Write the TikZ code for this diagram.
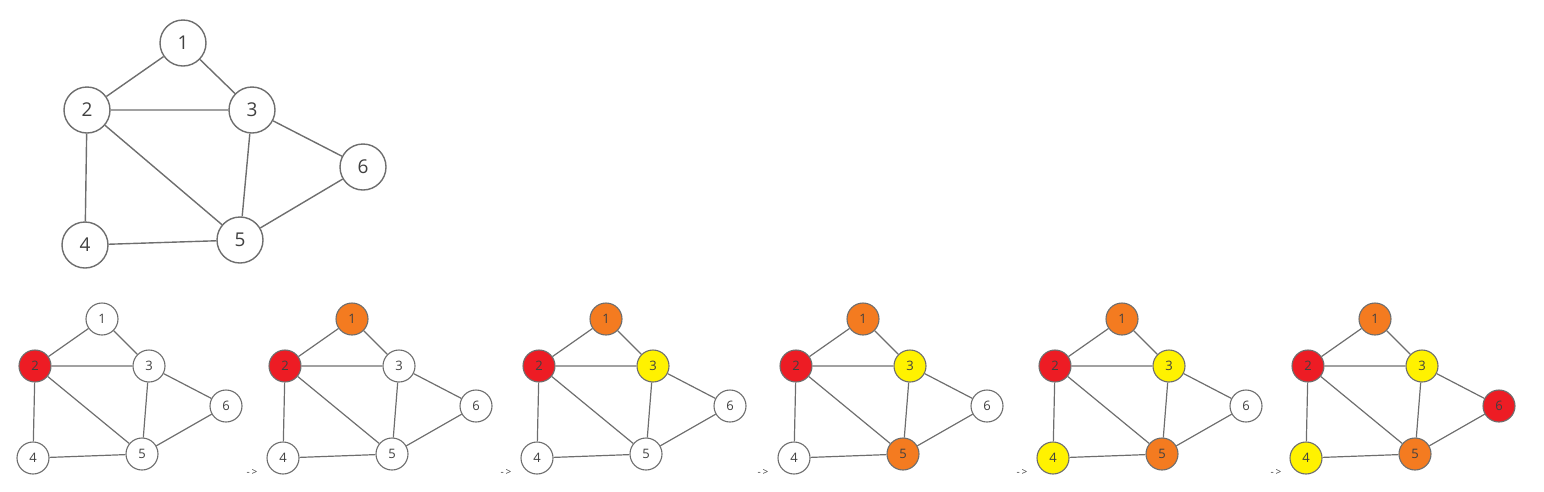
\documentclass[tikz,border=0pt]{standalone}
\usepackage{fontspec}
\setmainfont{Open Sans}
\usetikzlibrary{backgrounds}
\definecolor{cred}{HTML}{ED1C24}
\definecolor{corange}{HTML}{F47B20}
\definecolor{cyellow}{HTML}{FFF200}
\definecolor{edgegray}{HTML}{6E6E6E}
\definecolor{txtgray}{HTML}{404040}
\tikzset{
  bignode/.style={circle, draw=edgegray, line width=1.4pt, minimum size=46pt, inner sep=0pt, fill=white, font=\fontsize{19}{21}\selectfont, text=txtgray},
  smallnode/.style={circle, draw=edgegray, line width=1.1pt, minimum size=32pt, inner sep=0pt, font=\fontsize{13}{15}\selectfont, text=txtgray},
  bigedge/.style={draw=edgegray, line width=1.4pt},
  smalledge/.style={draw=edgegray, line width=1.2pt},
  arrowlabel/.style={font=\fontsize{10}{11}\selectfont, text=txtgray, inner sep=0pt}
}
% #1 prefix, #2 x of node 2, #3..#8 fills of nodes 1..6
\newcommand\smallgraph[8]{%
  \begin{scope}[shift={(#2,366)}]
    \node[smallnode, fill=#3] (#1n1) at (67,-47) {1};
    \node[smallnode, fill=#4] (#1n2) at (0,0) {2};
    \node[smallnode, fill=#5] (#1n3) at (114,0) {3};
    \node[smallnode, fill=#6] (#1n4) at (-2,92) {4};
    \node[smallnode, fill=#7] (#1n5) at (107,88) {5};
    \node[smallnode, fill=#8] (#1n6) at (191,40) {6};
    \path[smalledge] (#1n1) -- (#1n2) (#1n1) -- (#1n3) (#1n2) -- (#1n3)
      (#1n2) -- (#1n4) (#1n2) -- (#1n5) (#1n3) -- (#1n5) (#1n3) -- (#1n6)
      (#1n4) -- (#1n5) (#1n5) -- (#1n6);
  \end{scope}}
\begin{document}
\begin{tikzpicture}[x=1pt, y=-1pt]
\useasboundingbox (0,0) rectangle (1544,491);
% top graph
\node[bignode] (t1) at (183,43) {1};
\node[bignode] (t2) at (87,110) {2};
\node[bignode] (t3) at (252,110) {3};
\node[bignode] (t4) at (85,245) {4};
\node[bignode] (t5) at (240,240) {5};
\node[bignode] (t6) at (363,167) {6};
\path[bigedge] (t1) -- (t2) (t1) -- (t3) (t2) -- (t3) (t2) -- (t4)
  (t2) -- (t5) (t3) -- (t5) (t3) -- (t6) (t4) -- (t5) (t5) -- (t6);
% small graphs
\smallgraph{a}{35}{white}{cred}{white}{white}{white}{white}
\smallgraph{b}{285}{corange}{cred}{white}{white}{white}{white}
\smallgraph{c}{539}{corange}{cred}{cyellow}{white}{white}{white}
\smallgraph{d}{796}{corange}{cred}{cyellow}{white}{corange}{white}
\smallgraph{e}{1055}{corange}{cred}{cyellow}{cyellow}{corange}{white}
\smallgraph{f}{1308}{corange}{cred}{cyellow}{cyellow}{corange}{cred}
% arrows
\node[arrowlabel] (ar1) at (252,472) {-\,>};
\node[arrowlabel] (ar2) at (506,472) {-\,>};
\node[arrowlabel] (ar3) at (763,472) {-\,>};
\node[arrowlabel] (ar4) at (1022,472) {-\,>};
\node[arrowlabel] (ar5) at (1276,472) {-\,>};
\end{tikzpicture}
\end{document}
